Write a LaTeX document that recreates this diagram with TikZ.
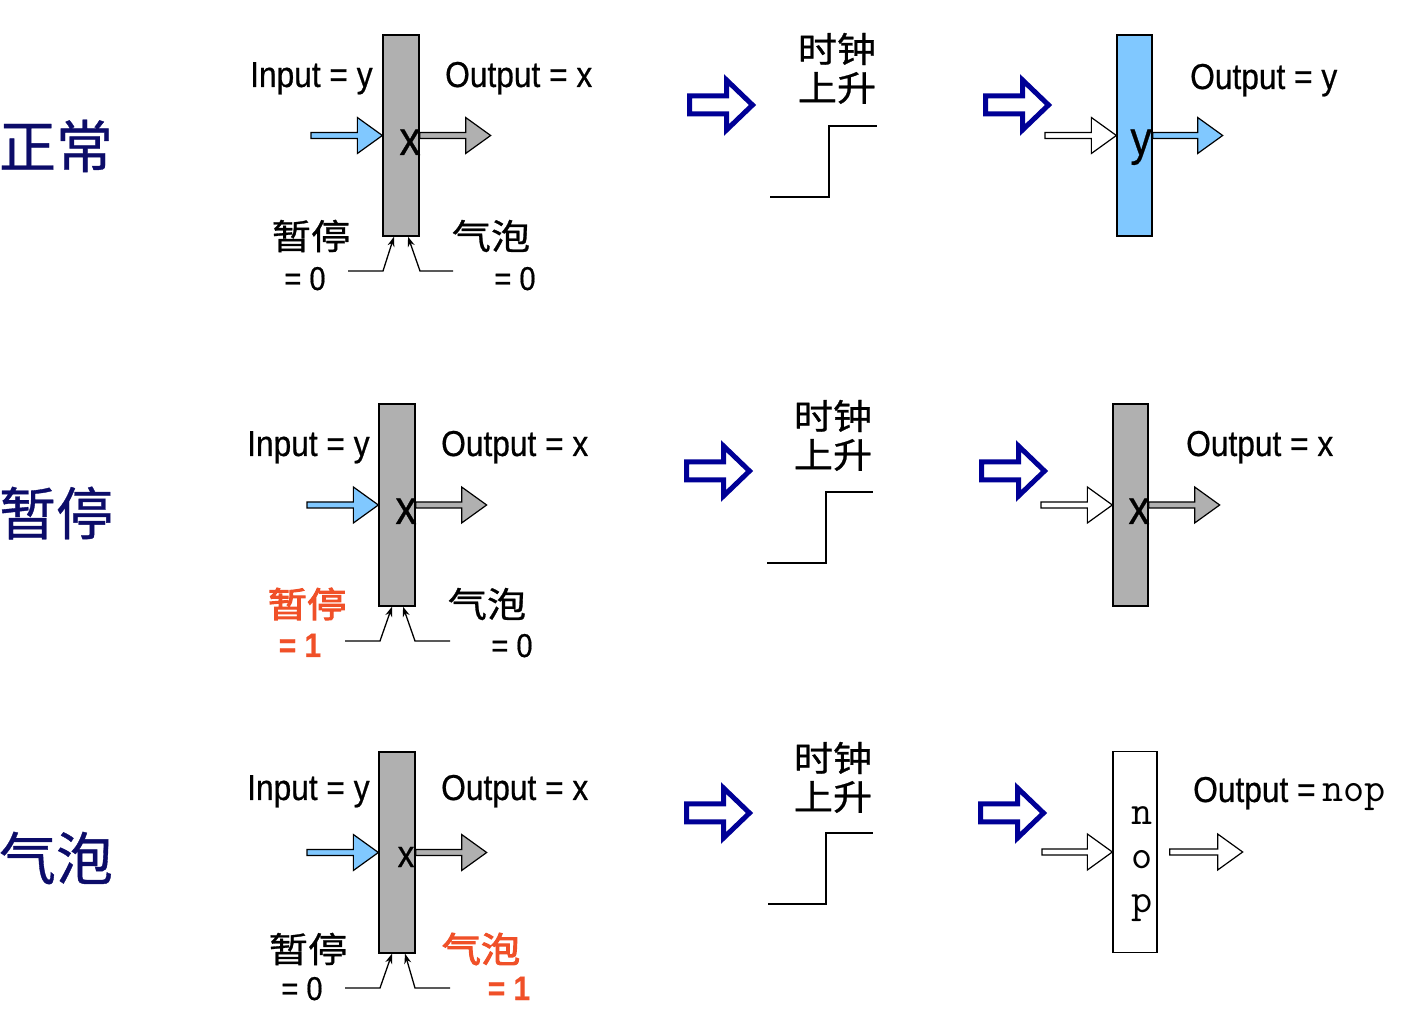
\documentclass[tikz,border=0pt]{standalone}
\usepackage{fontspec}
\setmainfont{Liberation Sans}
\newfontfamily\lat[FakeStretch=0.88,FakeBold=0.6]{Liberation Sans}
\newfontfamily\cjk[FakeStretch=1.12,FakeBold=0.8]{Noto Sans CJK SC}
\newfontfamily\cjkb[FakeStretch=1.12,FakeBold=2.8]{Noto Sans CJK SC}
\newfontfamily\cjkbig[FakeBold=0.6]{Noto Sans CJK SC}
\usetikzlibrary{calc,arrows.meta}
\definecolor{inblue}{RGB}{128,200,255}
\definecolor{reggray}{RGB}{176,176,176}
\definecolor{navyarr}{RGB}{0,0,150}
\definecolor{navylab}{RGB}{12,12,105}
\definecolor{redlab}{RGB}{240,80,40}
\tikzset{
 reg/.style={draw, line width=1.3pt, minimum width=36pt, minimum height=201pt, inner sep=0pt},
 lab/.style={inner sep=0pt, anchor=base west, font=\lat\fontsize{36}{40}\selectfont},
 eqlab/.style={inner sep=0pt, anchor=base, font=\lat\fontsize{33}{36}\selectfont},
 eqred/.style={inner sep=0pt, anchor=base, text=redlab, font=\lat\bfseries\fontsize{34}{36}\selectfont},
 reglab/.style={inner sep=0pt, anchor=base, font=\lat\fontsize{48}{50}\selectfont},
 cjklab/.style={inner sep=0pt, font=\cjk\fontsize{35}{38}\selectfont},
 cjkred/.style={inner sep=0pt, text=redlab, font=\cjkb\fontsize{35}{38}\selectfont},
 rowlab/.style={inner sep=0pt, text=navylab, font=\cjkbig\fontsize{57}{60}\selectfont},
 monolab/.style={inner sep=0pt, anchor=base, font=\ttfamily\fontsize{41}{44}\selectfont},
 dline/.style={draw=black, line width=1.2pt},
 ctl/.style={line width=1.3pt, -{Stealth[length=10pt,width=7pt]}},
 clk/.style={line width=2pt},
 bigarrow/.style={draw=navyarr, fill=white, line width=5pt},
}
\newcommand\darrow[3]{\draw[dline, fill=#3] let \p1=(#1), \p2=(#2) in (\x1,\y2+3pt) -- (\x2-25pt,\y2+3pt) -- (\x2-25pt,\y2+18pt) -- (\x2,\y2) -- (\x2-25pt,\y2-18pt) -- (\x2-25pt,\y2-3pt) -- (\x1,\y2-3pt) -- cycle;}
\newcommand\bigarr[2]{\draw[bigarrow] (#1,#2+9) -- (#1+37,#2+9) -- (#1+37,#2+25) -- (#1+63,#2) -- (#1+37,#2-25) -- (#1+37,#2-9) -- (#1,#2-9) -- cycle;}
\begin{document}
\begin{tikzpicture}[x=1pt,y=1pt]
\useasboundingbox (0,0) rectangle (1402,1012);
% row labels
\node[rowlab] (lab1) at (56,866) {正常};
\node[rowlab] (lab2) at (56,499) {暂停};
\node[rowlab] (lab3) at (56,154) {气泡};

% ===== Row 1 =====
\node[reg, fill=reggray] (r1) at (401,876.5) {};
\node[lab] (in1) at (250,925) {Input = y};
\node[lab] (out1) at (445,925) {Output = x};
\node[reglab] (x1) at (410,857) {x};
\darrow{311,876.5}{r1.west}{inblue}
\darrow{r1.east}{[xshift=71pt]r1.east}{reggray}
\node[cjklab] (st1) at (311,776) {暂停};
\node[eqlab] (st1v) at (305,722) {= 0};
\node[cjklab] (bu1) at (491,776) {气泡};
\node[eqlab] (bu1v) at (515,722) {= 0};
\draw[ctl] (348,741) -- (383,741) -- ([xshift=-7pt]r1.south);
\draw[ctl] (453,741) -- (420,741) -- ([xshift=7pt]r1.south);
\bigarr{689.5}{907}
\node[cjklab] (ck1a) at (837,963) {时钟};
\node[cjklab] (ck1b) at (837,924) {上升};
\draw[clk] (770,815) -- (829,815) -- (829,886) -- (877,886);
\bigarr{985.5}{907}
\node[reg, minimum width=35pt, fill=inblue] (R1) at (1134.5,876.5) {};
\node[reglab] (y1) at (1141,857) {y};
\darrow{1045,876.5}{R1.west}{white}
\darrow{R1.east}{[xshift=70pt]R1.east}{inblue}
\node[lab] (rout1) at (1190,923) {Output = y};

% ===== Row 2 =====
\node[reg, fill=reggray, minimum height=202pt] (r2) at (397,507) {};
\node[lab] (in2) at (247,556) {Input = y};
\node[lab] (out2) at (441,556) {Output = x};
\node[reglab] (x2) at (406,488) {x};
\darrow{307,507}{r2.west}{inblue}
\darrow{r2.east}{[xshift=71pt]r2.east}{reggray}
\node[cjkred] (st2) at (307,408) {暂停};
\node[eqred] (st2v) at (300,355) {= 1};
\node[cjklab] (bu2) at (487,408) {气泡};
\node[eqlab] (bu2v) at (512,355) {= 0};
\draw[ctl] (345,371) -- (380,371) -- ([xshift=-5pt]r2.south);
\draw[ctl] (450,371) -- (415,371) -- ([xshift=6pt]r2.south);
\bigarr{686.5}{541}
\node[cjklab] (ck2a) at (833,596) {时钟};
\node[cjklab] (ck2b) at (833,557) {上升};
\draw[clk] (767,449) -- (826,449) -- (826,520) -- (873,520);
\bigarr{981.5}{541}
\node[reg, minimum width=35pt, minimum height=202pt, fill=reggray] (R2) at (1130.5,507) {};
\node[reglab] (xr2) at (1139,488) {x};
\darrow{1041,507}{R2.west}{white}
\darrow{R2.east}{[xshift=71pt]R2.east}{reggray}
\node[lab] (rout2) at (1186,556) {Output = x};

% ===== Row 3 =====
\node[reg, fill=reggray] (r3) at (397,159.5) {};
\node[lab] (in3) at (247,212) {Input = y};
\node[lab] (out3) at (441,212) {Output = x};
\node[reglab, font=\lat\fontsize{38}{40}\selectfont] (x3) at (406,145) {x};
\darrow{307,159.5}{r3.west}{inblue}
\darrow{r3.east}{[xshift=71pt]r3.east}{reggray}
\node[cjklab] (st3) at (308,63) {暂停};
\node[eqlab] (st3v) at (302,12) {= 0};
\node[cjkred] (bu3) at (481,63) {气泡};
\node[eqred] (bu3v) at (509,12) {= 1};
\draw[ctl] (345,24) -- (380,24) -- ([xshift=-5pt]r3.south);
\draw[ctl] (450,24) -- (415,24) -- ([xshift=8pt]r3.south);
\bigarr{686.5}{199}
\node[cjklab] (ck3a) at (833,254) {时钟};
\node[cjklab] (ck3b) at (833,215) {上升};
\draw[clk] (768,108) -- (826,108) -- (826,179) -- (873,179);
\bigarr{980.5}{199}
\node[reg, minimum width=44pt, fill=white] (nop) at (1135,160) {};
\node[monolab] (n) at (1142,187) {n};
\node[monolab] (o) at (1142,143) {o};
\node[monolab] (p) at (1142,100) {p};
\darrow{1042,160}{nop.west}{white}
\darrow{[xshift=12pt]nop.east}{[xshift=85pt]nop.east}{white}
\node[lab] (rout3) at (1193,210) {Output =};
\node[monolab, anchor=base west] (nopv) at (1322,210) {nop};
\end{tikzpicture}
\end{document}
